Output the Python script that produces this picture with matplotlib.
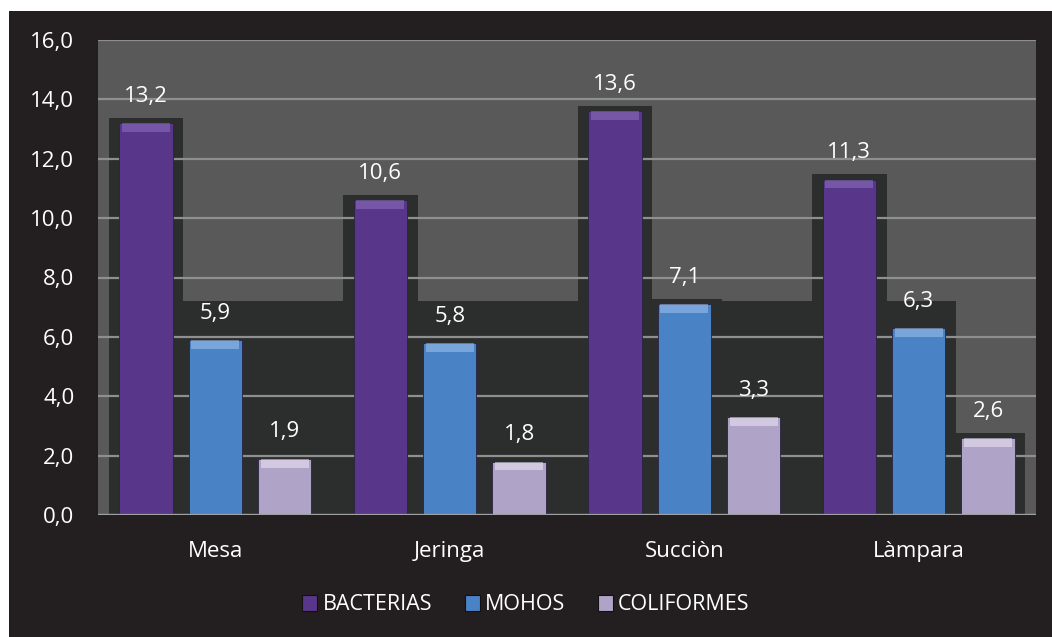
import numpy as np
import matplotlib.pyplot as plt
from matplotlib.patches import Rectangle, Patch

categories = ["Mesa", "Jeringa", "Succiòn", "Làmpara"]
bacterias = [13.2, 10.6, 13.6, 11.3]
mohos = [5.9, 5.8, 7.1, 6.3]
coliformes = [1.9, 1.8, 3.3, 2.6]
series_names = ["BACTERIAS", "MOHOS", "COLIFORMES"]
yticks = np.arange(0, 16.1, 2.0)

colors = ["#58368a", "#4a82c6", "#b0a3c8"]
tops = ["#9577c4", "#a6c9ef", "#f4f0fa"]

plt.rcParams['font.family'] = ['Open Sans', 'DejaVu Sans']

fig = plt.figure(figsize=(10.52, 6.37), dpi=100)
fig.patch.set_facecolor("white")
# dark chart area (white strip on top / left)
fig.add_artist(Rectangle((9 / 1052, 0), 1, 1 - 11 / 637, transform=fig.transFigure,
                         facecolor="#231f20", edgecolor="none", zorder=0))

ax = fig.add_axes([98 / 1052, 1 - 515 / 637, 938 / 1052, 475 / 637])
ax.set_facecolor("#595959")
ax.set_zorder(1)

x = np.arange(len(categories))
off = 0.296
w = 0.228
data = [bacterias, mohos, coliformes]
shadow = "#2c2d2d"
pad_l, pad_r = 0.045, 0.045

# big merged shadow band behind the groups
band_top = max(mohos) + 0.1
left = x[0] - off - w / 2 - pad_l
right = x[-1] + w / 2 + pad_r
ax.add_patch(Rectangle((left, 0), right - left, band_top, facecolor=shadow,
                       edgecolor="none", zorder=1))

for i, vals in enumerate(data):
    xs = x + (i - 1) * off
    ax.bar(xs, np.array(vals) + 0.17, width=w + pad_l + pad_r, color=shadow,
           zorder=1, linewidth=0)

ax.set_ylim(0, 16)
ax.set_xlim(-0.5, len(categories) - 0.5)
ax.set_yticks(yticks)
ax.grid(axis="y", color="#8f8f8f", linewidth=1.6, zorder=2)
ax.set_axisbelow(False)

for i, vals in enumerate(data):
    xs = x + (i - 1) * off
    v = np.array(vals)
    ax.bar(xs, v, width=w, color=colors[i], edgecolor="#2a2340", linewidth=0.6,
           zorder=3)
    ax.bar(xs, np.full_like(v, 0.3), bottom=v - 0.3, width=w * 0.9,
           color=tops[i], linewidth=0, zorder=4, alpha=0.5)
    for xi, vi in zip(xs, v):
        ax.text(xi, vi + 0.9, f"{vi:.1f}".replace(".", ","), ha="center",
                va="center", color="white", fontsize=16, zorder=5)

ax.set_yticklabels([f"{t:.1f}".replace(".", ",") for t in yticks], color="white",
                   fontsize=16)
ax.set_xticks(x)
ax.set_xticklabels(categories, color="white", fontsize=16)
ax.tick_params(axis="both", length=0)
ax.tick_params(axis="x", pad=19)
ax.tick_params(axis="y", pad=17)
for s in ax.spines.values():
    s.set_visible(False)
ax.axhline(0, color="#a0a0a0", linewidth=1.6, zorder=6)

handles = [Patch(facecolor=c, edgecolor="#111111", linewidth=0.8) for c in colors]
fig.legend(handles, series_names, loc="center", bbox_to_anchor=(0.5, 1 - 605 / 637),
           ncol=3, frameon=False, fontsize=15.5, labelcolor="white",
           handlelength=0.7, handleheight=0.7, handletextpad=0.25, columnspacing=1.5)

fig.savefig("out.png", dpi=100, facecolor=fig.get_facecolor())
